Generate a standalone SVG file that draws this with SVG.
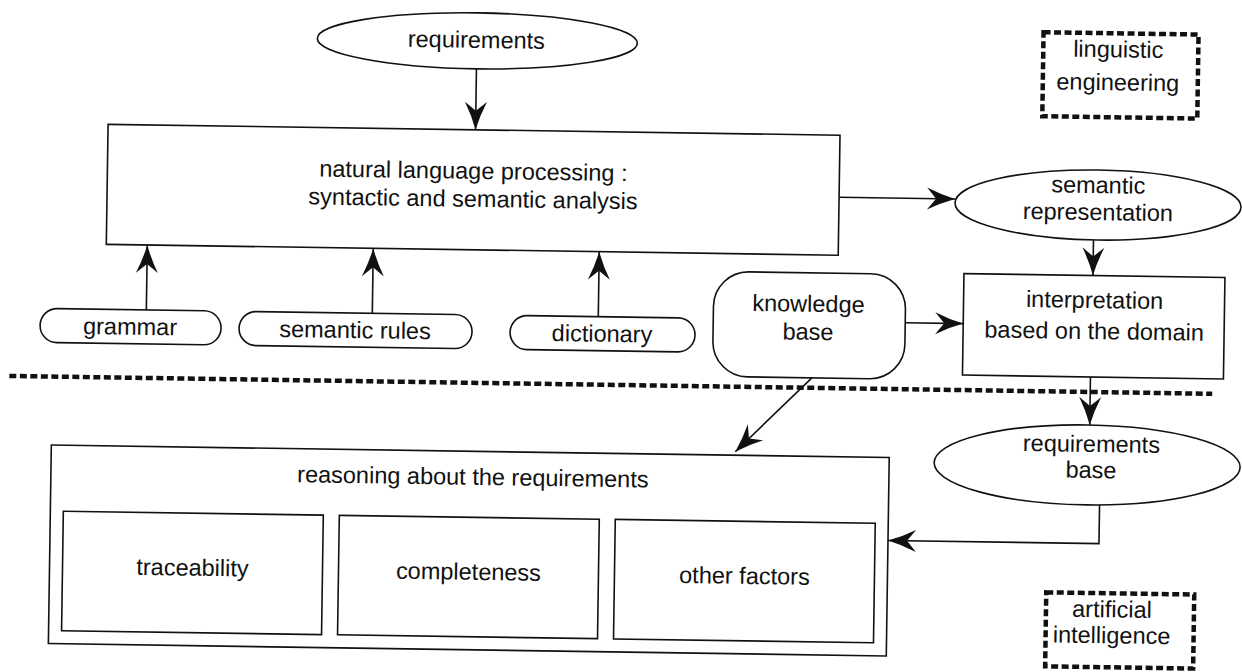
<svg xmlns="http://www.w3.org/2000/svg" width="1242" height="672" viewBox="0 0 1242 672">
<defs>
<style>
.box{fill:none;stroke:#111;stroke-width:1.6}
.hatch{fill:none;stroke:#111;stroke-width:4.5;stroke-dasharray:7 3.5}
.t{font-family:"Liberation Sans",Arial,Helvetica,sans-serif;font-size:23.5px;fill:#111;text-anchor:middle}
.c{fill:none;stroke:#111;stroke-width:1.6;marker-end:url(#ah)}
</style>
<marker id="ah" viewBox="-30 -12 32 24" refX="0" refY="0" markerWidth="32" markerHeight="24" markerUnits="userSpaceOnUse" orient="auto">
<path d="M0,0 Q-14,-4 -28,-11 L-19,0 L-28,11 Q-14,4 0,0 Z" fill="#111"/>
</marker>
</defs>
<rect width="1242" height="672" fill="#fff"/>
<g transform="rotate(0.85 621 336)">
<g id="requirements">
<ellipse class="box" cx="473" cy="43" rx="160" ry="28"/>
<text class="t" x="472" y="50">requirements</text>
</g>
<g id="nlp">
<rect class="box" x="105" y="132" width="732" height="120"/>
<text class="t" x="471" y="181">natural language processing :</text>
<text class="t" x="471" y="209">syntactic and semantic analysis</text>
</g>
<g id="semantic-representation">
<ellipse class="box" cx="1096" cy="198" rx="143" ry="35"/>
<text class="t" x="1096" y="186">semantic</text>
<text class="t" x="1096" y="213">representation</text>
</g>
<g id="interpretation">
<rect class="box" x="963" y="268.5" width="261" height="101.5"/>
<text class="t" x="1094" y="301">interpretation</text>
<text class="t" x="1094" y="332">based on the domain</text>
</g>
<g id="knowledge-base">
<rect class="box" x="713" y="270" width="192" height="105" rx="35" ry="35"/>
<text class="t" x="808" y="309">knowledge</text>
<text class="t" x="808" y="337">base</text>
</g>
<g id="grammar">
<rect class="box" x="40" y="317" width="181" height="34" rx="17" ry="17"/>
<text class="t" x="130" y="342">grammar</text>
</g>
<g id="semantic-rules">
<rect class="box" x="239" y="317" width="233" height="34" rx="17" ry="17"/>
<text class="t" x="355" y="342">semantic rules</text>
</g>
<g id="dictionary">
<rect class="box" x="510" y="317" width="185" height="34" rx="17" ry="17"/>
<text class="t" x="602" y="342">dictionary</text>
</g>
<g id="divider">
<line class="hatch" x1="10" y1="385" x2="1213" y2="385"/>
</g>
<g id="requirements-base">
<ellipse class="box" cx="1089" cy="458" rx="153" ry="40"/>
<text class="t" x="1093" y="445">requirements</text>
<text class="t" x="1093" y="471">base</text>
</g>
<g id="reasoning">
<rect class="box" x="53" y="453.5" width="838" height="198.5"/>
<text class="t" x="475" y="487">reasoning about the requirements</text>
</g>
<g id="traceability">
<rect class="box" x="66" y="519.5" width="260" height="119.5"/>
<text class="t" x="196" y="582">traceability</text>
</g>
<g id="completeness">
<rect class="box" x="342" y="519.5" width="260" height="119.5"/>
<text class="t" x="472" y="582">completeness</text>
</g>
<g id="other-factors">
<rect class="box" x="618" y="519.5" width="260" height="119.5"/>
<text class="t" x="748" y="582">other factors</text>
</g>
<g id="linguistic-engineering">
<rect class="hatch" x="1039" y="26" width="155" height="84"/>
<text class="t" x="1114" y="50">linguistic</text>
<text class="t" x="1114" y="83">engineering</text>
</g>
<g id="artificial-intelligence">
<rect class="hatch" x="1050" y="586" width="148" height="74"/>
<text class="t" x="1116" y="610">artificial</text>
<text class="t" x="1116" y="636">intelligence</text>
</g>
<g id="connectors">
<line class="c" x1="472.5" y1="71" x2="472.5" y2="132"/>
<line class="c" x1="837" y1="194" x2="953" y2="194"/>
<line class="c" x1="1092" y1="233" x2="1092" y2="268.5"/>
<line class="c" x1="905" y1="318.5" x2="963" y2="318.5"/>
<line class="c" x1="146" y1="317" x2="146" y2="252"/>
<line class="c" x1="372" y1="317" x2="372" y2="252"/>
<line class="c" x1="598" y1="317" x2="598" y2="252"/>
<line class="c" x1="812.5" y1="375" x2="737" y2="450"/>
<line class="c" x1="1091" y1="370" x2="1091" y2="418"/>
<path class="c" d="M1102,498 V536.5 H891"/>
</g>
</g>
</svg>
